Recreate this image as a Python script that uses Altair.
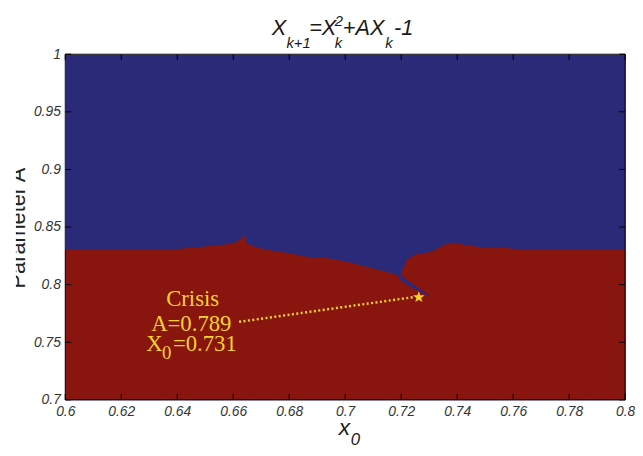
import altair as alt
import pandas as pd

# ---------------- data ----------------
x_ticks = [0.6, 0.62, 0.64, 0.66, 0.68, 0.7, 0.72, 0.74, 0.76, 0.78, 0.8]
y_ticks = [0.7, 0.75, 0.8, 0.85, 0.9, 0.95, 1.0]

# upper edge of the red (bounded) region
boundary_x0 = [0.6, 0.6402, 0.6409, 0.649, 0.6596, 0.6624, 0.6638, 0.6649, 0.6684,
               0.672, 0.679, 0.6861, 0.6931, 0.7002, 0.7072, 0.7143, 0.7178, 0.7192,
               0.7206, 0.722, 0.7249, 0.7309, 0.7354, 0.7383, 0.7425, 0.7496, 0.7566,
               0.7601, 0.7637, 0.8]
boundary_A = [0.8303, 0.8303, 0.8311, 0.8329, 0.8354, 0.8389, 0.8431, 0.8357, 0.8323,
              0.8303, 0.8277, 0.8243, 0.8234, 0.8200, 0.8157, 0.8114, 0.8089, 0.8071,
              0.8131, 0.8217, 0.8260, 0.8286, 0.8346, 0.8363, 0.8346, 0.8320, 0.8320,
              0.8311, 0.8303, 0.8303]

# thin blue tongue reaching down to the crisis point
tongue_x0 = [0.7192, 0.7213, 0.7242, 0.7270, 0.7298]
tongue_A_low = [0.8046, 0.8011, 0.7969, 0.7934, 0.7900]
tongue_A_high = [0.8106, 0.8054, 0.8003, 0.7960, 0.7909]

crisis_x0 = [0.7263]
crisis_A = [0.7891]

arrow_x0 = [0.6621, 0.7242]
arrow_A = [0.7677, 0.7891]

# ---------------- styling ----------------
W, H = 567, 350
BLUE = "#2B2A78"
RED = "#88150E"
YEL = "#F4D22C"
FONT = "Liberation Sans"
SERIF = "Liberation Serif"

xs = alt.Scale(domain=[0.6, 0.8], nice=False, zero=False)
ys = alt.Scale(domain=[0.7, 1.0], nice=False, zero=False)

axis_common = dict(format=".2~f", ticks=False, tickSize=0, domain=False, grid=False,
                   labelFont=FONT, labelFontStyle="italic", labelFontSize=14,
                   labelColor="#333333", labelFlush=False, labelOverlap=False, title=None)

bdf = pd.DataFrame({"x0": boundary_x0, "A": boundary_A})
red = alt.Chart(bdf).mark_area(color=RED, interpolate="linear").encode(
    x=alt.X("x0:Q", scale=xs, axis=alt.Axis(values=x_ticks, labelPadding=5, **axis_common)),
    y=alt.Y("A:Q", scale=ys, axis=alt.Axis(values=y_ticks, labelPadding=5, **axis_common)),
    y2=alt.datum(0.7),
)

tdf = pd.DataFrame({"x0": tongue_x0, "lo": tongue_A_low, "hi": tongue_A_high})
tongue = alt.Chart(tdf).mark_area(color=BLUE, interpolate="linear").encode(
    x=alt.X("x0:Q", scale=xs), y=alt.Y("lo:Q", scale=ys), y2="hi:Q")

adf = pd.DataFrame({"x0": arrow_x0, "A": arrow_A})
arrow = alt.Chart(adf).mark_line(color=YEL, strokeWidth=2.5, strokeDash=[2, 2.5]).encode(
    x=alt.X("x0:Q", scale=xs), y=alt.Y("A:Q", scale=ys))

STAR = "M0,-1L0.24,-0.33L0.95,-0.31L0.39,0.13L0.59,0.81L0,0.41L-0.59,0.81L-0.39,0.13L-0.95,-0.31L-0.24,-0.33Z"
cdf = pd.DataFrame({"x0": crisis_x0, "A": crisis_A})
star = alt.Chart(cdf).mark_point(shape=STAR, filled=True, color=YEL, size=150, opacity=1).encode(
    x=alt.X("x0:Q", scale=xs), y=alt.Y("A:Q", scale=ys))

xt = pd.DataFrame({"v": x_ticks})
yt = pd.DataFrame({"v": y_ticks})
TL = 6
tick_b = alt.Chart(xt).mark_rule(color="black", strokeWidth=1).encode(
    x=alt.X("v:Q", scale=xs), y=alt.value(H), y2=alt.value(H - TL))
tick_t = alt.Chart(xt).mark_rule(color="black", strokeWidth=1).encode(
    x=alt.X("v:Q", scale=xs), y=alt.value(0), y2=alt.value(TL))
tick_l = alt.Chart(yt).mark_rule(color="black", strokeWidth=1).encode(
    y=alt.Y("v:Q", scale=ys), x=alt.value(0), x2=alt.value(TL))
tick_r = alt.Chart(yt).mark_rule(color="black", strokeWidth=1).encode(
    y=alt.Y("v:Q", scale=ys), x=alt.value(W - TL), x2=alt.value(W))

one = pd.DataFrame({"a": [0]})
box = alt.Chart(one).mark_rect(filled=False, stroke="black", strokeWidth=1).encode(
    x=alt.value(0), x2=alt.value(W), y=alt.value(0), y2=alt.value(H))


def txt(s, x, y, size, font=FONT, style="normal", color="#1a1a1a", align="left", angle=0):
    kw = dict(text=s, font=font, fontSize=size, fontStyle=style, color=color,
              align=align, baseline="alphabetic")
    if angle:
        kw["angle"] = angle
    return alt.Chart(one).mark_text(**kw).encode(x=alt.value(x), y=alt.value(y))


texts = [
    # title  X_{k+1}=X_k^2+AX_k-1
    txt("X", 209, -19, 22, style="italic"),
    txt("k+1", 224, -6, 15, style="italic"),
    txt("=X", 247, -19, 22, style="italic"),
    txt("2", 273, -29, 15, style="italic"),
    txt("k", 273, -6, 15, style="italic"),
    txt("+AX", 281, -19, 22, style="italic"),
    txt("k", 324, -6, 15, style="italic"),
    txt("-1", 333, -19, 22, style="italic"),
    # x-axis title x_0
    txt("x", 277, 386, 23, style="italic"),
    txt("0", 289, 396, 17, style="italic"),
    # annotation
    txt("Crisis", 129, 255, 23, font=SERIF, color=YEL, align="center"),
    txt("A=0.789", 87, 280, 23, font=SERIF, color=YEL),
    txt("X", 82, 301, 23, font=SERIF, color=YEL),
    txt("0", 98, 309, 19, font=SERIF, color=YEL),
    txt("=0.731", 109, 301, 23, font=SERIF, color=YEL),
    # fragment of the neighbouring panel's axis title
    txt("Parameter A", -41, 176, 22, color="#222222", align="center", angle=270),
]

cover = alt.Chart(one).mark_rect(color="white", opacity=1).encode(
    x=alt.value(-60), x2=alt.value(-50), y=alt.value(-44), y2=alt.value(H + 50))

chart = alt.layer(
    red, tongue, arrow, star, tick_b, tick_t, tick_l, tick_r, box, *texts, cover
).properties(
    width=W, height=H,
    autosize=alt.AutoSizeParams(type="none"),
    padding={"left": 58, "top": 44, "right": 10, "bottom": 50},
).configure_view(fill=BLUE, stroke="transparent")

chart.save("out.html", embed_options={"renderer": "svg", "actions": False})
